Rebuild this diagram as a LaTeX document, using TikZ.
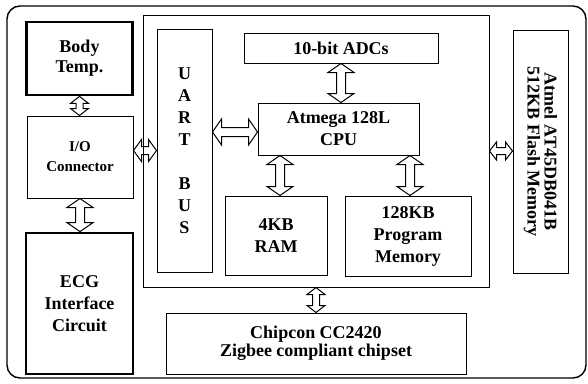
\documentclass[tikz,border=0pt]{standalone}
\usepackage{fontspec}
\setmainfont{Liberation Serif}
\usetikzlibrary{calc}

\tikzset{
  blk/.style={draw, line width=1pt, align=center, inner sep=0pt,
    font=\bfseries\fontsize{18}{22}\selectfont},
  thickblk/.style={blk, line width=2.8pt},
  link/.style={draw, line width=1pt, line join=miter},
}

% hollow double arrow, top point #1 to bottom point #2
% #3 head half width, #4 shaft half width, #5 head length
\newcommand{\vlink}[5]{%
  \draw[link] (#1) -- ++(#3,#5) -- ++(-#3+#4,0) -- ($(#2)+(#4,-#5)$)
    -- ++(#3-#4,0) -- (#2) -- ++(-#3,-#5) -- ++(#3-#4,0)
    -- ($(#1)+(-#4,#5)$) -- ++(-#3+#4,0) -- cycle;}
% same, left point #1 to right point #2
\newcommand{\hlink}[5]{%
  \draw[link] (#1) -- ++(#5,-#3) -- ++(0,#3-#4) -- ($(#2)+(-#5,-#4)$)
    -- ++(0,-#3+#4) -- (#2) -- ++(-#5,#3) -- ++(0,-#3+#4)
    -- ($(#1)+(#5,#4)$) -- ++(0,#3-#4) -- cycle;}

\begin{document}
\begin{tikzpicture}[x=1pt, y=-1pt]
  \useasboundingbox (0,0) rectangle (588,383);

  %
  \draw[line width=1.4pt, rounded corners=13pt] (7,6) rectangle (586,378);

  %
  \node[thickblk, minimum width=106pt, minimum height=73pt,
    font=\bfseries\fontsize{18}{20}\selectfont] (temp) at (79.5,58.5) {Body\\Temp.};
  \node[blk, minimum width=106pt, minimum height=82pt,
    font=\bfseries\fontsize{15}{20}\selectfont] (io) at (80,157) {I/O\\Connector};
  \node[thickblk, minimum width=107pt, minimum height=141pt] (ecg) at (79.5,303.5) {ECG\\Interface\\Circuit};

  %
  \node[blk, minimum width=346pt, minimum height=272pt] (mcu) at (316,151) {};
  \node[blk, minimum width=55pt, minimum height=243pt] (uart) at (184.5,150.5) {U\\A\\R\\T\\[22pt]B\\U\\S};
  \node[blk, minimum width=194pt, minimum height=30pt] (adc) at (341,48) {10-bit ADCs};
  \node[blk, minimum width=161pt, minimum height=52pt] (cpu) at (338.5,129) {Atmega 128L\\CPU};
  \node[blk, minimum width=102pt, minimum height=79pt] (ram) at (276,235.5) {4KB\\RAM};
  \node[blk, minimum width=126pt, minimum height=80pt] (prog) at (408,236) {128KB\\Program\\Memory};

  %
  \node[blk, rotate=-90, minimum width=243pt, minimum height=55pt,
    font=\bfseries\fontsize{18}{17}\selectfont] (flash) at (540.5,151.5) {Atmel AT45DB041B\\512KB Flash Memory};
  \node[blk, minimum width=300pt, minimum height=61pt,
    font=\bfseries\fontsize{18}{18}\selectfont] (zig) at (316,343.5) {Chipcon CC2420\\Zigbee compliant chipset};

  %
  \coordinate (cpuin) at ($(cpu.west)+(0,3)$);
  \coordinate (ramtop) at ($(ram.north)+(4,0)$);
  \coordinate (progtop) at ($(prog.north)+(2,0)$);

  %
  \vlink{temp.south}{temp.south |- io.north}{9}{3.5}{7}
  \vlink{io.south}{io.south |- ecg.north}{13}{4.5}{9}
  \hlink{io.east |- uart.west}{uart.west}{11}{4}{8}
  \hlink{uart.east |- cpuin}{cpuin}{13}{4.5}{9}
  \vlink{adc.south}{adc.south |- cpu.north}{13}{4.5}{9}
  \vlink{ramtop |- cpu.south}{ramtop}{13}{4.5}{9}
  \vlink{progtop |- cpu.south}{progtop}{13}{4.5}{9}
  \hlink{mcu.east}{flash.south |- mcu.east}{9}{3.5}{7}
  \vlink{mcu.south}{mcu.south |- zig.north}{9}{3.5}{7}

\end{tikzpicture}
\end{document}
